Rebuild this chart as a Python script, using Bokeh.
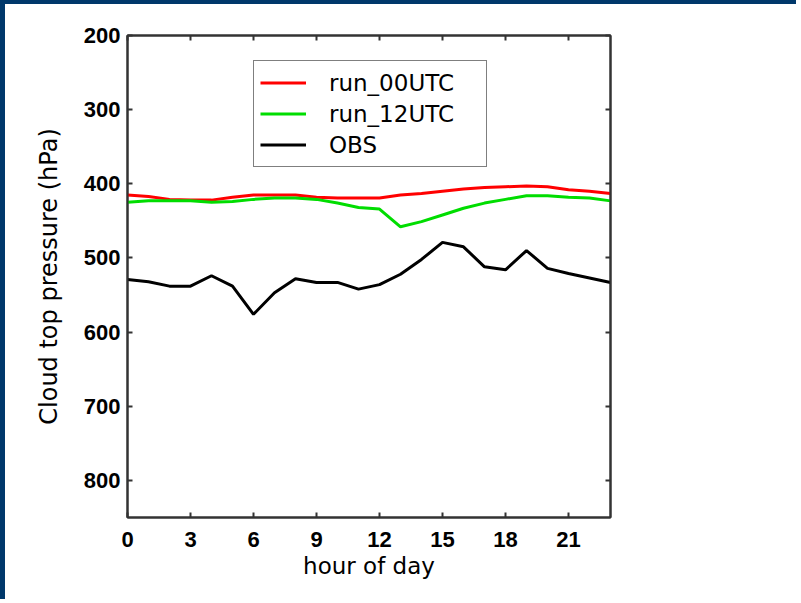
from bokeh.plotting import figure
from bokeh.models import Range1d, LinearAxis, FixedTicker, Legend, LegendItem
from bokeh.embed import file_html
from bokeh.resources import INLINE

hours = list(range(24))
run_00utc = [415, 417, 421, 422, 422, 418, 415, 415, 415, 418, 419, 419,
             419, 415, 413, 410, 407, 405, 404, 403, 404, 408, 410, 413]
run_12utc = [425, 423, 423, 423, 425, 424, 421, 419, 419, 421, 426, 432,
             434, 458, 451, 442, 433, 426, 421, 416, 416, 418, 419, 423]
obs = [529, 532, 538, 538, 524, 538, 576, 547, 528, 533, 533, 542,
       536, 522, 502, 479, 485, 512, 516, 490, 514, 521, 527, 533]
x_ticks = [0, 3, 6, 9, 12, 15, 18, 21]
y_ticks = [200, 300, 400, 500, 600, 700, 800]

BLUE = "#00386b"
TICK_FONT = "Liberation Sans"
LABEL_FONT = "DejaVu Sans"

p = figure(width=796, height=599, output_backend="svg", toolbar_location=None,
           x_range=Range1d(0, 23), y_range=Range1d(850, 200),
           min_border_left=122, min_border_right=191, min_border_top=31,
           min_border_bottom=86, x_axis_label="hour of day",
           y_axis_label="Cloud top pressure (hPa)")
p.styles = {"border-top": f"4px solid {BLUE}", "border-left": f"5px solid {BLUE}"}
p.background_fill_color = "white"
p.border_fill_color = "white"
p.outline_line_color = "#333333"
p.outline_line_width = 2
p.grid.visible = False

for ax in (p.xaxis[0], p.yaxis[0]):
    ax.axis_line_color = "#333333"
    ax.axis_line_width = 2
    ax.major_tick_line_color = "#333333"
    ax.major_tick_line_width = 2
    ax.major_tick_in = 5
    ax.major_tick_out = 0
    ax.minor_tick_line_color = None
    ax.major_label_text_font = TICK_FONT
    ax.major_label_text_font_size = "22px"
    ax.major_label_text_font_style = "bold"
    ax.major_label_text_color = "black"
    ax.axis_label_text_font = LABEL_FONT
    ax.axis_label_text_font_style = "normal"
    ax.axis_label_text_color = "black"

p.xaxis[0].axis_label_text_font_size = "23px"
p.yaxis[0].axis_label_text_font_size = "24px"
p.xaxis[0].ticker = FixedTicker(ticks=x_ticks)
p.yaxis[0].ticker = FixedTicker(ticks=y_ticks)
p.xaxis[0].major_label_standoff = 14
p.yaxis[0].major_label_standoff = 7
p.xaxis[0].axis_label_standoff = 3
p.yaxis[0].axis_label_standoff = 18


def box_axis(ticks):
    return LinearAxis(ticker=FixedTicker(ticks=ticks),
                      major_label_overrides={t: "" for t in ticks},
                      axis_line_color="#333333", axis_line_width=2, major_tick_in=5,
                      major_tick_out=0, major_tick_line_color="#333333",
                      major_tick_line_width=2, minor_tick_line_color=None)


p.add_layout(box_axis(y_ticks), "right")
p.add_layout(box_axis(x_ticks), "above")

r1 = p.line(hours, run_00utc, line_color="#ff0000", line_width=3)
r2 = p.line(hours, run_12utc, line_color="#00dd00", line_width=3)
r3 = p.line(hours, obs, line_color="black", line_width=3)

legend = Legend(items=[LegendItem(label="run_00UTC", renderers=[r1]),
                       LegendItem(label="run_12UTC", renderers=[r2]),
                       LegendItem(label="OBS", renderers=[r3])],
                location=(126, 350), padding=6, spacing=0,
                label_text_font=LABEL_FONT, label_text_font_size="23px",
                label_text_color="black",
                label_height=31, glyph_height=31, glyph_width=46,
                label_standoff=23, label_width=151,
                border_line_color="black", border_line_width=1,
                background_fill_alpha=1, margin=0)
p.add_layout(legend, "center")

open("out.html", "w").write(file_html(p, INLINE))
